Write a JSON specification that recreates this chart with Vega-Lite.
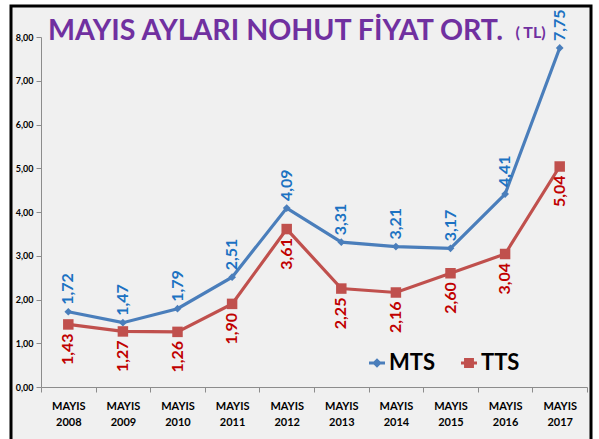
{
  "$schema": "https://vega.github.io/schema/vega-lite/v6.json",
  "autosize": {"type": "none"},
  "width": 580,
  "height": 436,
  "padding": {"left": 11, "top": 6, "right": 8, "bottom": 0},
  "background": "white",
  "config": {
    "locale": {"number": {"decimal": ",", "thousands": ".", "grouping": [3], "currency": ["", " TL"]}},
    "view": {"fill": "#f0f0f0", "stroke": "black", "strokeWidth": 3},
    "font": "Lato"
  },
  "title": {
    "text": "MAYIS AYLARI NOHUT FİYAT ORT.",
    "anchor": "start",
    "frame": "group",
    "dx": 37,
    "offset": -40,
    "font": "Lato",
    "fontSize": 28.6,
    "fontWeight": "bold",
    "color": "#7030A0"
  },
  "data": {"values": [
    {"yil": "2008", "series": "MTS", "fiyat": 1.72},
    {"yil": "2009", "series": "MTS", "fiyat": 1.47},
    {"yil": "2010", "series": "MTS", "fiyat": 1.79},
    {"yil": "2011", "series": "MTS", "fiyat": 2.51},
    {"yil": "2012", "series": "MTS", "fiyat": 4.09},
    {"yil": "2013", "series": "MTS", "fiyat": 3.31},
    {"yil": "2014", "series": "MTS", "fiyat": 3.21},
    {"yil": "2015", "series": "MTS", "fiyat": 3.17},
    {"yil": "2016", "series": "MTS", "fiyat": 4.41},
    {"yil": "2017", "series": "MTS", "fiyat": 7.75},
    {"yil": "2008", "series": "TTS", "fiyat": 1.43},
    {"yil": "2009", "series": "TTS", "fiyat": 1.27},
    {"yil": "2010", "series": "TTS", "fiyat": 1.26},
    {"yil": "2011", "series": "TTS", "fiyat": 1.90},
    {"yil": "2012", "series": "TTS", "fiyat": 3.61},
    {"yil": "2013", "series": "TTS", "fiyat": 2.25},
    {"yil": "2014", "series": "TTS", "fiyat": 2.16},
    {"yil": "2015", "series": "TTS", "fiyat": 2.60},
    {"yil": "2016", "series": "TTS", "fiyat": 3.04},
    {"yil": "2017", "series": "TTS", "fiyat": 5.04}
  ]},
  "encoding": {
    "x": {
      "field": "yil", "type": "nominal",
      "scale": {"type": "band", "range": [30, 576], "paddingInner": 0, "paddingOuter": 0},
      "axis": {
        "title": null, "orient": "bottom", "offset": -55, "labelAngle": 0,
        "labelExpr": "datum.label ? ['MAYIS', datum.label] : ''",
        "labelFont": "Lato", "labelFontSize": 11, "labelFontWeight": "bold", "labelColor": "black",
        "labelLineHeight": 16, "labelPadding": 8,
        "domainColor": "#8c8c8c", "tickColor": "#8c8c8c", "tickSize": 5, "tickBand": "extent", "grid": false
      }
    },
    "y": {
      "field": "fiyat", "type": "quantitative",
      "scale": {"domain": [0, 8], "range": [381, 31], "nice": false, "zero": true},
      "axis": {
        "title": "( TL)", "titleAngle": 0, "titleX": 474, "titleY": 31, "titleAlign": "left", "titleBaseline": "alphabetic",
        "titleFont": "Lato", "titleFontSize": 16, "titleFontWeight": "bold", "titleColor": "#7030A0",
        "offset": -30, "values": [0, 1, 2, 3, 4, 5, 6, 7, 8], "format": ".2f",
        "labelFont": "Lato", "labelFontSize": 9, "labelFontWeight": "bold", "labelColor": "black",
        "labelPadding": 3, "domainColor": "#8c8c8c", "tickColor": "#8c8c8c", "tickSize": 5, "grid": false
      }
    }
  },
  "layer": [
    {
      "mark": {"type": "line", "strokeWidth": 3.2},
      "encoding": {
        "color": {
          "field": "series", "type": "nominal",
          "scale": {"domain": ["MTS", "TTS"], "range": ["#4A7EBB", "#C0504D"]},
          "legend": {
            "title": null, "orient": "none", "legendX": 355, "legendY": 346, "direction": "horizontal",
            "labelFont": "Lato", "labelFontSize": 22, "labelFontWeight": "bold", "labelColor": "black",
            "symbolSize": 256, "columnPadding": 22, "labelOffset": 1,
            "encode": {
              "symbols": {
                "update": {
                  "shape": {"signal": "datum.value === 'MTS' ? 'M-1,-0.18H1V0.18H-1Z M0,-0.6L0.6,0L0,0.6L-0.6,0Z' : 'M-1,-0.18H1V0.18H-1Z M-0.62,-0.62H0.62V0.62H-0.62Z'"},
                  "fill": {"signal": "datum.value === 'MTS' ? '#4A7EBB' : '#C0504D'"},
                  "stroke": {"value": "transparent"},
                  "strokeWidth": {"value": 0},
                  "opacity": {"value": 1}
                }
              }
            }
          }
        }
      }
    },
    {
      "mark": {"type": "point", "filled": true, "opacity": 1},
      "encoding": {
        "color": {"field": "series", "type": "nominal", "legend": null},
        "shape": {"condition": {"test": "datum.series === 'MTS'", "value": "diamond"}, "value": "square"},
        "size": {"condition": {"test": "datum.series === 'MTS'", "value": 60}, "value": 110}
      }
    },
    {
      "transform": [{"filter": "datum.series === 'MTS'"}],
      "mark": {"type": "text", "angle": 270, "align": "left", "baseline": "middle", "dx": 7, "font": "Lato", "fontSize": 16, "fontWeight": "bold", "color": "#1C72C2"},
      "encoding": {"text": {"field": "fiyat", "type": "quantitative", "format": ".2f"}}
    },
    {
      "transform": [{"filter": "datum.series === 'TTS'"}],
      "mark": {"type": "text", "angle": 270, "align": "right", "baseline": "middle", "dx": -9, "font": "Lato", "fontSize": 16, "fontWeight": "bold", "color": "#C00000"},
      "encoding": {"text": {"field": "fiyat", "type": "quantitative", "format": ".2f"}}
    }
  ]
}
